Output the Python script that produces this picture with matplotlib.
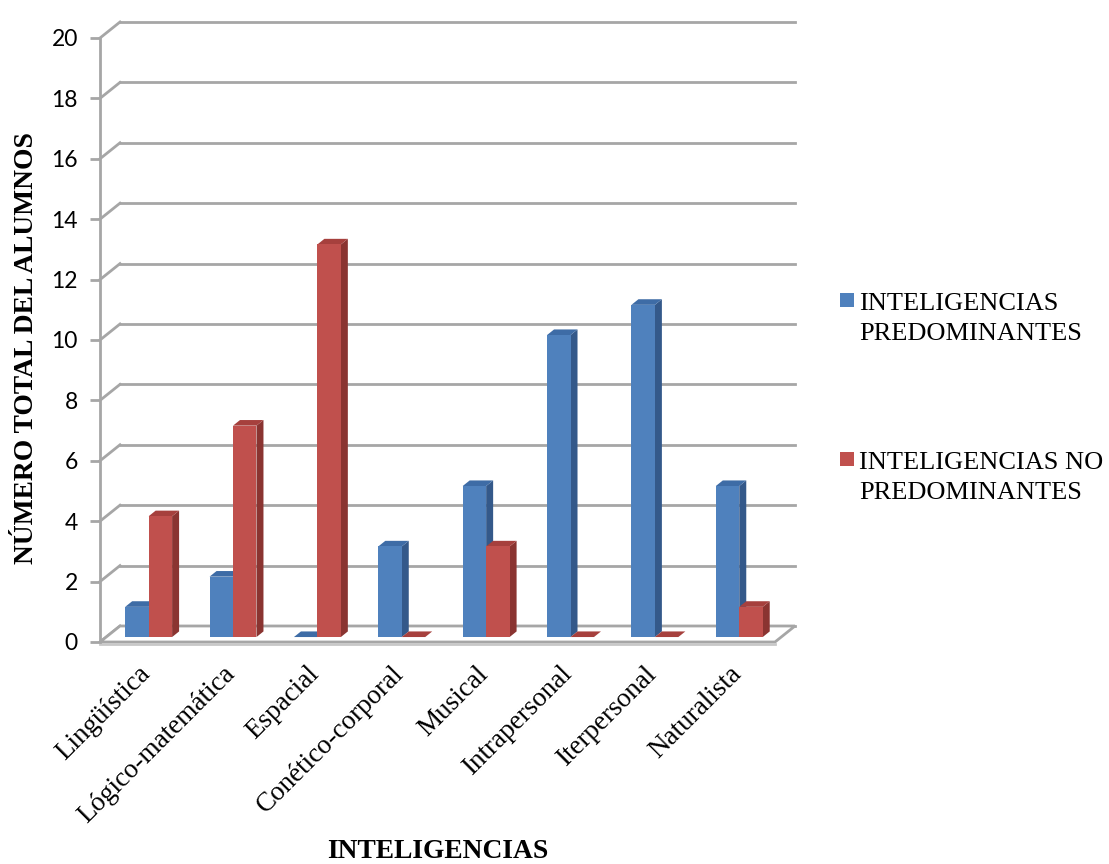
import matplotlib.pyplot as plt
from matplotlib.patches import Polygon, Rectangle

categorias = ['Lingüística', 'Lógico-matemática', 'Espacial', 'Conético-corporal',
              'Musical', 'Intrapersonal', 'Iterpersonal', 'Naturalista']
predominantes = [1, 2, 0, 3, 5, 10, 11, 5]
no_predominantes = [4, 7, 13, 0, 3, 0, 0, 1]
series_labels = [['INTELIGENCIAS', 'PREDOMINANTES'], ['INTELIGENCIAS NO', 'PREDOMINANTES']]
yticks = list(range(0, 21, 2))

front_colors = ['#4F81BD', '#C0504D']
side_colors = ['#34598A', '#8A3431']
top_colors = ['#3E6CA6', '#A6403D']
grid_color = '#A6A6A6'

# fake 3d depth, in data units
DX, DY = 0.237, 0.53
F0, F1 = 0.31, 0.66
W = 0.278

fig = plt.figure(figsize=(11.09, 8.64), dpi=100)
ax = fig.add_axes([100 / 1109, 222 / 864, 675 / 1109, 604 / 864])
ax.set_xlim(0, 8)
ax.set_ylim(0, 20)

n = len(categorias)
# back wall and side wall grid
for y in yticks:
    ax.plot([DX, n + DX], [y + DY, y + DY], color=grid_color, lw=2, zorder=1, clip_on=False)
    ax.plot([0, DX], [y, y + DY], color=grid_color, lw=2, zorder=1, clip_on=False)

# floor
floor = Polygon([(0, 0), (n, 0), (n + DX, DY), (DX, DY)], closed=True,
                facecolor='white', edgecolor=grid_color, lw=2, zorder=2, clip_on=False)
ax.add_patch(floor)
ax.plot([0, n], [-0.05, -0.05], color='#C8C8C8', lw=2, zorder=2, clip_on=False)

for s, vals in enumerate([predominantes, no_predominantes]):
    xs = [i + 0.225 + s * W for i in range(n)]
    ax.bar([x + F0 * DX for x in xs], vals, width=W, bottom=F0 * DY, align='edge',
           color=front_colors[s], zorder=3 + s * 2, clip_on=False)
    for x, h in zip(xs, vals):
        xl, xr = x, x + W
        b0, b1 = F0 * DY, F1 * DY
        side = Polygon([(xr + F0 * DX, b0 + h), (xr + F0 * DX, b0),
                        (xr + F1 * DX, b1), (xr + F1 * DX, b1 + h)],
                       closed=True, facecolor=side_colors[s], edgecolor='none',
                       zorder=3 + s * 2 - 0.5, clip_on=False)
        top = Polygon([(xl + F0 * DX, b0 + h), (xr + F0 * DX, b0 + h),
                       (xr + F1 * DX, b1 + h), (xl + F1 * DX, b1 + h)],
                      closed=True, facecolor=top_colors[s], edgecolor='none',
                      zorder=3 + s * 2 - 0.5, clip_on=False)
        ax.add_patch(side)
        ax.add_patch(top)

for sp in ['top', 'right', 'bottom']:
    ax.spines[sp].set_visible(False)
ax.spines['left'].set_color(grid_color)
ax.spines['left'].set_linewidth(2)
ax.set_yticks(yticks)
ax.set_yticklabels([str(t) for t in yticks], fontsize=16.5, family='Lato')
ax.tick_params(axis='y', length=7, width=2, color=grid_color, pad=9)
ax.set_xticks([i + 0.45 for i in range(n)])
ax.set_xticklabels(categorias, rotation=45, ha='right', va='top',
                   rotation_mode='anchor', fontsize=19.5, family='Liberation Serif')
ax.tick_params(axis='x', length=0, pad=14)

fig.text(27 / 1109, 1 - 348 / 864, 'NÚMERO TOTAL DEL ALUMNOS', rotation=90,
         ha='center', va='center', fontsize=19.8, fontweight='bold', family='Liberation Serif')
fig.text(438 / 1109, 1 - 852 / 864, 'INTELIGENCIAS', ha='center', va='center',
         fontsize=19.8, fontweight='bold', family='Liberation Serif')

# legend, one text per line so the spacing matches
for s, (lines, ytop) in enumerate(zip(series_labels, [293, 452])):
    fig.patches.append(Rectangle((840 / 1109, 1 - (ytop + 14) / 864), 14 / 1109, 14 / 864,
                                 transform=fig.transFigure, facecolor=front_colors[s],
                                 edgecolor='none'))
    for k, line in enumerate(lines):
        fig.text(859 / 1109, 1 - (ytop + 17 + 30 * k) / 864, line, ha='left',
                 va='baseline', fontsize=19, family='Liberation Serif')

plt.savefig('out.png', dpi=100)
